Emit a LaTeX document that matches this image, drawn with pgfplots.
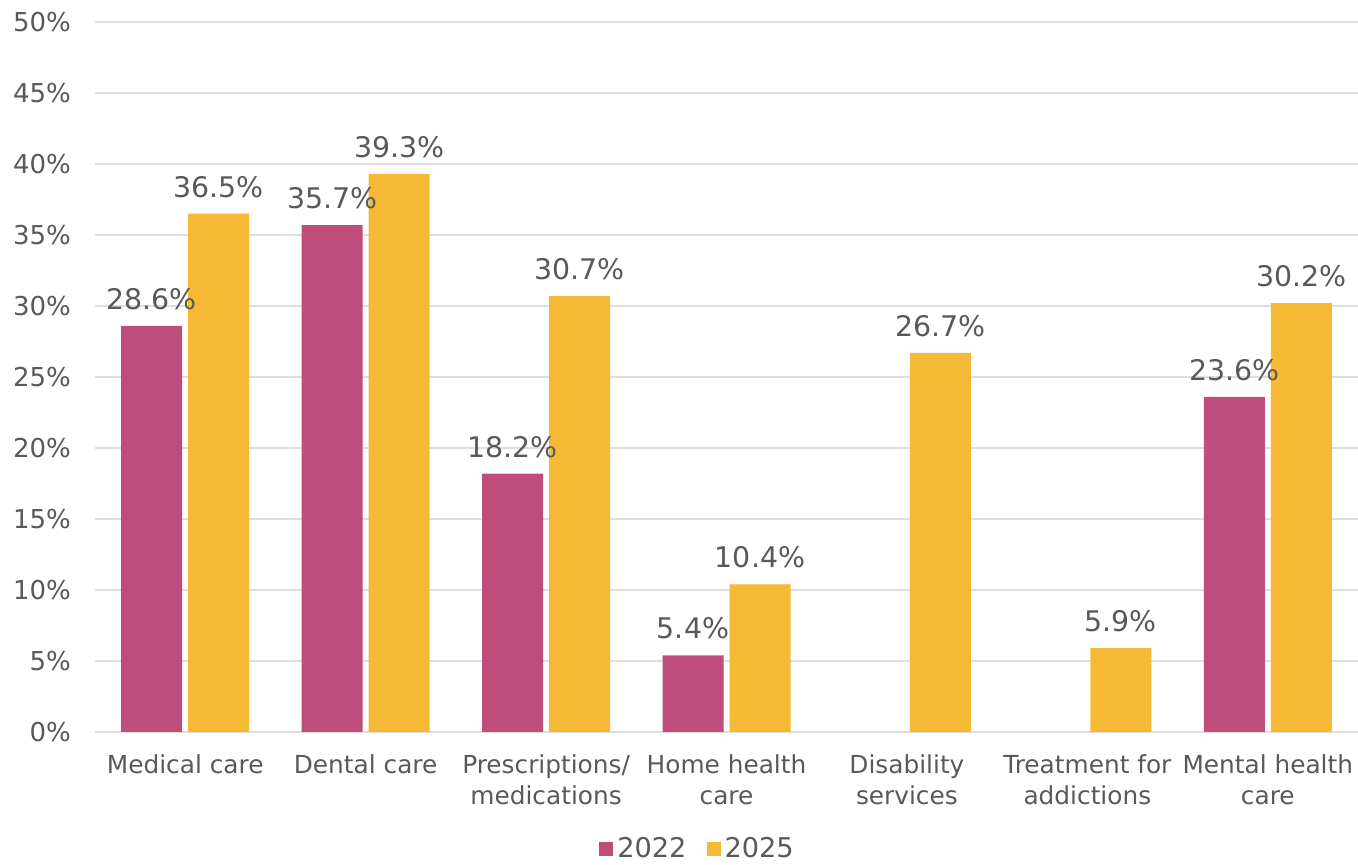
\documentclass[border=0pt]{standalone}
\usepackage{pgfplots}
\pgfplotsset{compat=1.18}
\usepackage{fontspec}
\setmainfont{DejaVu Sans}
\definecolor{cpink}{HTML}{BE4D7B}
\definecolor{cyel}{HTML}{F5B935}
\definecolor{ctxt}{HTML}{595959}
\definecolor{cgrid}{HTML}{DEDEDE}
\begin{document}
\begin{tikzpicture}
\useasboundingbox (0,0) rectangle (679pt,432.5pt);
\begin{axis}[
  at={(47.5pt,66.5pt)}, anchor=south west,
  scale only axis, width=631.5pt, height=355pt,
  xmin=-0.5, xmax=6.5, ymin=0, ymax=50,
  ybar=3pt, bar width=30.5pt,
  axis line style={draw=none},
  ytick={0,5,...,50},
  yticklabel={\pgfmathprintnumber{\tick}\%},
  /pgf/number format/assume math mode=true,
  ymajorgrids, grid style={cgrid, line width=0.8pt},
  major tick length=0pt,
  xtick={0,...,6},
  xticklabels={Medical care, Dental care, Prescriptions/\\medications, Home health\\care, Disability\\services, Treatment for\\addictions, Mental health\\care},
  xticklabel style={align=center, font=\fontsize{12.4}{15.5}\selectfont, text=ctxt, yshift=-8pt},
  yticklabel style={font=\fontsize{13}{15}\selectfont, text=ctxt, xshift=-8.5pt},
  nodes near coords={\pgfmathprintnumber[fixed,fixed zerofill,precision=1]{\pgfplotspointmeta}\%},
  nodes near coords style={font=\fontsize{14.2}{16}\selectfont, text=ctxt, /pgf/number format/assume math mode=true, yshift=4.5pt},
  legend style={at={(0.5,-0.137)}, anchor=north, xshift=-14pt, draw=none, legend columns=2, font=\fontsize{13.6}{16}\selectfont, text=ctxt, /tikz/every even column/.append style={column sep=8pt}},
  legend image code/.code={\fill[#1] (0pt,-3.5pt) rectangle (7pt,3.5pt);},
]
\addplot[fill=cpink, draw=none] coordinates {(0,28.6) (1,35.7) (2,18.2) (3,5.4) (6,23.6)};
\addplot[fill=cyel, draw=none] coordinates {(0,36.5) (1,39.3) (2,30.7) (3,10.4) (4,26.7) (5,5.9) (6,30.2)};
\legend{2022,2025}
\end{axis}
\end{tikzpicture}
\end{document}
